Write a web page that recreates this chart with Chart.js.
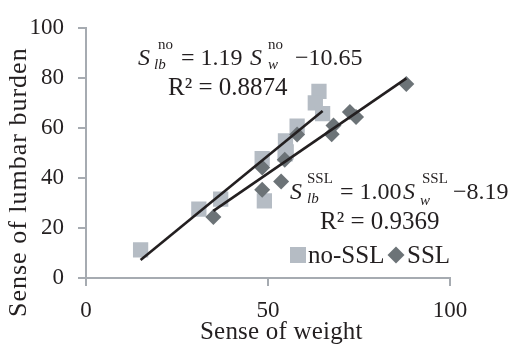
<!DOCTYPE html>
<html>
<head>
<meta charset="utf-8">
<script src="https://cdn.jsdelivr.net/npm/chart.js@4/dist/chart.umd.min.js"></script>
<style>
  html, body { margin: 0; padding: 0; background: #fff; }
  #wrap { position: relative; width: 519px; height: 345px; overflow: hidden; font-family: "Liberation Serif", "DejaVu Serif", serif; color: #231F20; }
  #c { position: absolute; left: 0; top: 0; }
  .t { position: absolute; white-space: nowrap; line-height: 1; }
  .i { font-style: italic; }
  .big { font-size: 24px; }
  .r2 { font-size: 25px; }
  .small { font-size: 15px; }
  .mk { position: absolute; }
</style>
</head>
<body>
<div id="wrap">
  <canvas id="c" width="519" height="345"></canvas>

  <!-- equation for no-SSL -->
  <div class="t big i" style="left:138px; top:45px;">S</div>
  <div class="t small" style="left:158px; top:37px;">no</div>
  <div class="t small i" style="left:154px; top:57px;">lb</div>
  <div class="t big" style="left:181px; top:45px;">= 1.19</div>
  <div class="t big i" style="left:250px; top:45px;">S</div>
  <div class="t small" style="left:268px; top:37px;">no</div>
  <div class="t small i" style="left:268px; top:57px;">w</div>
  <div class="t big" style="left:295px; top:45px;">&minus;10.65</div>
  <div class="t r2" style="left:168px; top:74px;">R² = 0.8874</div>

  <!-- equation for SSL -->
  <div class="t big i" style="left:290px; top:179px;">S</div>
  <div class="t small" style="left:307px; top:171px;">SSL</div>
  <div class="t small i" style="left:307px; top:191px;">lb</div>
  <div class="t big" style="left:340px; top:179px;">= 1.00</div>
  <div class="t big i" style="left:403px; top:179px;">S</div>
  <div class="t small" style="left:422px; top:171px;">SSL</div>
  <div class="t small i" style="left:420px; top:193px;">w</div>
  <div class="t big" style="left:453px; top:179px;">&minus;8.19</div>
  <div class="t r2" style="left:320px; top:208px;">R² = 0.9369</div>

  <!-- legend -->
  <div class="mk" style="left:290px; top:247px; width:16px; height:16px; background:#B5BCC4;"></div>
  <div class="t" style="left:308px; top:242px; font-size:25px;">no-SSL</div>
  <div class="mk" style="left:390px; top:249px; width:12px; height:12px; background:#6C7377; transform:rotate(45deg);"></div>
  <div class="t" style="left:407px; top:242px; font-size:25px;">SSL</div>

  <!-- axis titles -->
  <div class="t" style="left:200px; top:318px; font-size:25px; letter-spacing:0.2px;">Sense of weight</div>
  <div class="t" style="left:5px; top:317px; font-size:26px; letter-spacing:1px; transform-origin:0 0; transform:rotate(-90deg);">Sense of lumbar burden</div>
</div>

<script>
// ---- data ----
const noSslX = [15, 31, 37, 48.4, 49, 55, 54.7, 54.8, 58, 64, 63, 65];
const noSslY = [11.2, 27.5, 31.5, 47.7, 30.8, 50.4, 49.6, 54.8, 60.7, 74.6, 70, 65.7];

const sslX = [35, 48.4, 48.4, 53.6, 54.6, 58, 68, 67.5, 72.5, 74.2, 88];
const sslY = [24.4, 35.3, 44.2, 38.6, 47.3, 57.4, 61, 57.5, 66.3, 64.3, 77.5];

// regression lines as printed on the chart
const noSslFit = { slope: 1.19, intercept: -10.65 };
const sslFit = { slope: 1.00, intercept: -8.19 };

const xTicks = [0, 50, 100];
const yTicks = [0, 20, 40, 60, 80, 100];

// ---- build datasets ----
const toPts = (xs, ys) => xs.map((x, i) => ({ x: x, y: ys[i] }));
const fitLine = (xs, fit) => {
  const lo = Math.min(...xs), hi = Math.max(...xs);
  return [lo, hi].map(x => ({ x: x, y: fit.slope * x + fit.intercept }));
};

const axisColor = '#A6ABB1';
const textColor = '#231F20';
const font = { family: '"Liberation Serif", serif', size: 23 };

new Chart(document.getElementById('c'), {
  type: 'scatter',
  data: {
    datasets: [
      {
        label: 'no-SSL fit', type: 'line', data: fitLine(noSslX, noSslFit),
        borderColor: '#231F20', borderWidth: 2.6, pointRadius: 0, fill: false, order: 0
      },
      {
        label: 'SSL fit', type: 'line', data: fitLine(sslX, sslFit),
        borderColor: '#231F20', borderWidth: 2.6, pointRadius: 0, fill: false, order: 0
      },
      {
        label: 'SSL', data: toPts(sslX, sslY), pointStyle: 'rectRot',
        pointRadius: 8, pointHoverRadius: 8, backgroundColor: '#6C7377', borderWidth: 0, order: 1
      },
      {
        label: 'no-SSL', data: toPts(noSslX, noSslY), pointStyle: 'rect',
        pointRadius: 10.8, pointHoverRadius: 10.8, backgroundColor: '#B5BCC4', borderWidth: 0, order: 2
      }
    ]
  },
  options: {
    responsive: false,
    animation: false,
    events: [],
    layout: { padding: { top: 20, right: 69, bottom: 0, left: 0 } },
    plugins: { legend: { display: false }, tooltip: { enabled: false }, title: { display: false } },
    scales: {
      x: {
        type: 'linear', min: 0, max: 100,
        afterBuildTicks: s => { s.ticks = xTicks.map(v => ({ value: v })); },
        afterFit: s => { s.height = 67; },
        ticks: { font: font, color: textColor, padding: 11, maxRotation: 0 },
        grid: { display: true, drawOnChartArea: false, drawTicks: true, tickLength: 8, color: axisColor, lineWidth: 2 },
        border: { display: true, color: axisColor, width: 2 }
      },
      y: {
        type: 'linear', min: 0, max: 100,
        afterBuildTicks: s => { s.ticks = yTicks.map(v => ({ value: v })); },
        afterFit: s => { s.width = 86; },
        ticks: { font: font, color: textColor, padding: 14 },
        grid: { display: true, drawOnChartArea: false, drawTicks: true, tickLength: 8, color: axisColor, lineWidth: 2 },
        border: { display: true, color: axisColor, width: 2 }
      }
    }
  }
});
</script>
</body>
</html>
